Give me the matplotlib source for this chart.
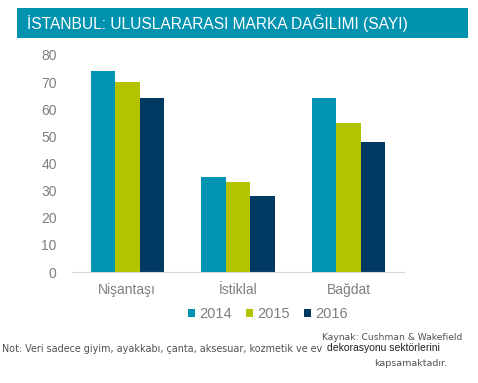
import matplotlib
matplotlib.use("Agg")
import matplotlib.pyplot as plt
import numpy as np
from matplotlib.patches import Rectangle

categories = ["Nişantaşı", "İstiklal", "Bağdat"]
years = ["2014", "2015", "2016"]
values_2014 = [74, 35, 64]
values_2015 = [70, 33, 55]
values_2016 = [64, 28, 48]
yticks = [0, 10, 20, 30, 40, 50, 60, 70, 80]
colors = ["#0093B2", "#B4C300", "#003A63"]

plt.rcParams['font.family'] = ['Liberation Sans', 'DejaVu Sans']
W, H = 478, 383
fig = plt.figure(figsize=(W/100, H/100), dpi=100)
ax = fig.add_axes([72/W, 1-272/H, (404-72)/W, (272-55)/H])

x = np.arange(len(categories))
bw = 0.22
series = [values_2014, values_2015, values_2016]
for i, (vals, yr) in enumerate(zip(series, years)):
    ax.bar(x + (i-1)*bw, vals, width=bw, color=colors[i], label=yr)

ax.set_xlim(-0.5, 2.5)
ax.set_ylim(0, 80)
ax.set_yticks(yticks)
ax.set_xticks(x)
ax.set_xticklabels(categories)
for s in ["top", "right", "left"]:
    ax.spines[s].set_visible(False)
ax.spines["bottom"].set_color("#D9D9D9")
ax.tick_params(axis="both", length=0, colors="#7F7F7F", labelsize=10)
ax.tick_params(axis="y", pad=11)
ax.tick_params(axis="x", pad=8)

leg = ax.legend(loc="center", bbox_to_anchor=(0.59, -0.194), ncol=3, frameon=False,
                fontsize=10.5, handlelength=0.45, handleheight=0.45, handletextpad=0.3,
                columnspacing=1.0, labelcolor="#7F7F7F")

# title banner
fig.patches.append(Rectangle((17/W, 1-38/H), (468-17)/W, 30/H, transform=fig.transFigure,
                             facecolor="#0092AF", edgecolor="none"))
fig.text(27/W, 1-23/H, "İSTANBUL: ULUSLARARASI MARKA DAĞILIMI (SAYI)", color="white",
         fontsize=11.2, va="center", ha="left")

small = ['DejaVu Sans']
fig.text(462/W, 1-338/H, "Kaynak: Cushman & Wakefield", fontsize=6.6, color="#505050",
         ha="right", va="center", family=small)
fig.text(2/W, 1-349/H, "Not: Veri sadece giyim, ayakkabı, çanta, aksesuar, kozmetik ve ev ",
         fontsize=6.9, color="#505050", ha="left", va="center", family=small)
fig.text(327/W, 1-348/H, "dekorasyonu sektörlerini", fontsize=7.5, color="#202020",
         ha="left", va="center")
fig.text(447/W, 1-363/H, "kapsamaktadır.", fontsize=6.8, color="#505050", ha="right",
         va="center", family=small)

fig.savefig("out.png", dpi=100)
